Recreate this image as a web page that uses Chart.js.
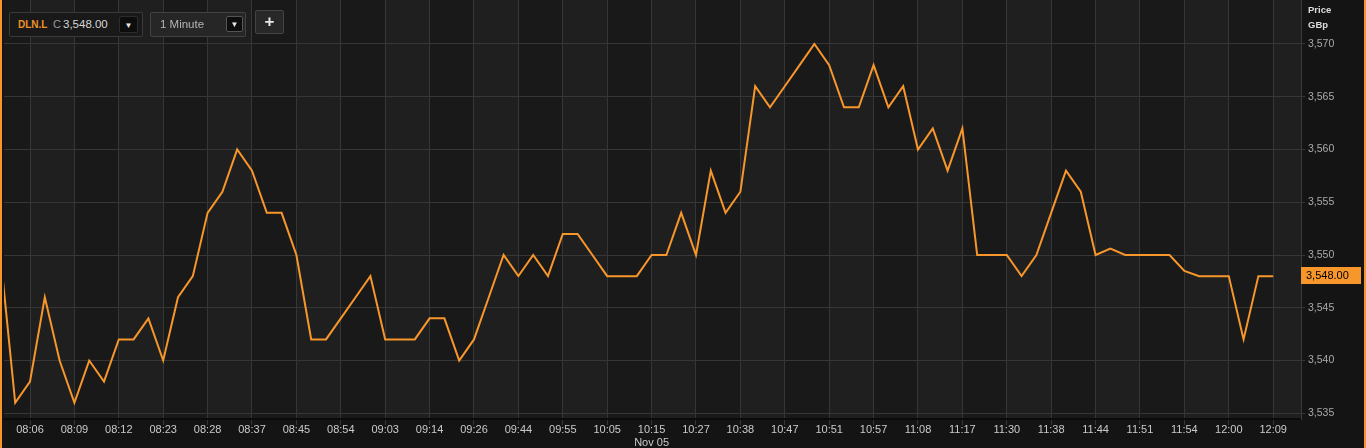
<!DOCTYPE html>
<html>
<head>
<meta charset="utf-8">
<script src="https://cdn.jsdelivr.net/npm/chart.js@4.4.0/dist/chart.umd.min.js"></script>
<style>
  html, body { margin: 0; padding: 0; background: #141414; width: 1366px; height: 448px; overflow: hidden; }
  body { font-family: "Liberation Sans", Arial, sans-serif; }
  #wrap { position: relative; width: 1366px; height: 448px; }
  #chart { position: absolute; left: 0; top: 0; }
  .ctl { position: absolute; box-sizing: border-box; border: 1px solid #3a3a3a; border-radius: 2px; }
  .btn { position: absolute; box-sizing: border-box; background: #0d0d0d; border: 1px solid #2c2c2c; border-radius: 2px;
         color: #e8e8e8; font-size: 8px; text-align: center; }
  .unit { position: absolute; left: 1308px; color: #dcdcdc; font-size: 9.5px; font-weight: bold; }
</style>
</head>
<body>
<div id="wrap">
  <canvas id="chart" width="1366" height="448"></canvas>

  <div class="ctl" style="left:9px;top:12px;width:134px;height:25px;background:#191919;">
    <span style="position:absolute;left:8px;top:6px;color:#f0922a;font-size:10px;font-weight:bold;">DLN.L</span>
    <span style="position:absolute;left:43px;top:5px;color:#9a9a9a;font-size:11px;">C</span>
    <span style="position:absolute;left:53px;top:5px;color:#d6d6d6;font-size:11.5px;">3,548.00</span>
    <div class="btn" style="left:109px;top:3px;width:19px;height:17px;line-height:17px;">&#9660;</div>
  </div>

  <div class="ctl" style="left:150px;top:12px;width:96px;height:25px;background:#262626;border-color:#424242;">
    <span style="position:absolute;left:9px;top:5px;color:#b4b4b4;font-size:11.5px;">1 Minute</span>
    <div class="btn" style="left:75px;top:3px;width:17px;height:16px;line-height:16px;border-color:#555;">&#9660;</div>
  </div>

  <div class="ctl" style="left:255px;top:10px;width:29px;height:24px;background:#282828;border-color:#444;
       color:#e6e6e6;font-size:17px;font-weight:bold;text-align:center;line-height:22px;">+</div>

  <div class="unit" style="top:4px;">Price</div>
  <div class="unit" style="top:19px;">GBp</div>
</div>

<script>
// price per minute bar (only traded minutes are shown)
var prices = [
  3550, 3536, 3538, 3546, 3540, 3536, 3540, 3538, 3542, 3542,
  3544, 3540, 3546, 3548, 3554, 3556, 3560, 3558, 3554, 3554,
  3550, 3542, 3542, 3544, 3546, 3548, 3542, 3542, 3542, 3544,
  3544, 3540, 3542, 3546, 3550, 3548, 3550, 3548, 3552, 3552,
  3550, 3548, 3548, 3548, 3550, 3550, 3554, 3550, 3558, 3554,
  3556, 3566, 3564, 3566, 3568, 3570, 3568, 3564, 3564, 3568,
  3564, 3566, 3560, 3562, 3558, 3562, 3550, 3550, 3550, 3548,
  3550, 3554, 3558, 3556, 3550, 3550.6, 3550, 3550, 3550, 3550,
  3548.5, 3548, 3548, 3548, 3542, 3548, 3548
];

// time labels, one every third bar starting at bar 2
var tickLabels = [
  '08:06', '08:09', '08:12', '08:23', '08:28', '08:37', '08:45', '08:54', '09:03', '09:14',
  '09:26', '09:44', '09:55', '10:05', '10:15', '10:27', '10:38', '10:47', '10:51', '10:57',
  '11:08', '11:17', '11:30', '11:38', '11:44', '11:51', '11:54', '12:00', '12:09'
];
var dateLabel = 'Nov 05';
var dateTick = '10:15';

var lastPrice = 3548;
var priceTicks = [3535, 3540, 3545, 3550, 3555, 3560, 3565, 3570];

var orange = '#f7962b';
var font = '"Liberation Sans", Arial, sans-serif';

function tickBar(k) { return 2 + 3 * k; }

var points = prices.map(function (p, i) { return { x: i, y: p }; });

// alternating column shading between the time gridlines + frame
var backdrop = {
  id: 'backdrop',
  beforeDraw: function (chart) {
    var c = chart.ctx, a = chart.chartArea, x = chart.scales.x;
    c.save();
    c.fillStyle = '#141414';
    c.fillRect(0, 0, chart.width, chart.height);
    c.fillStyle = '#191919';
    c.fillRect(a.left, 0, a.right - a.left, a.bottom);
    var edges = [a.left];
    tickLabels.forEach(function (t, k) { edges.push(x.getPixelForValue(tickBar(k))); });
    edges.push(a.right);
    for (var j = 0; j < edges.length - 1; j++) {
      if (j % 2 === 1) {
        c.fillStyle = '#1f1f1f';
        c.fillRect(edges[j], 0, edges[j + 1] - edges[j], a.bottom);
      }
    }
    c.restore();
  },
  afterDraw: function (chart) {
    var c = chart.ctx, a = chart.chartArea, y = chart.scales.y;
    c.save();
    // last price badge
    var py = Math.round(y.getPixelForValue(lastPrice));
    c.fillStyle = orange;
    c.fillRect(a.right, py - 9, 60, 17);
    c.fillStyle = '#000';
    c.font = '11px ' + font;
    c.textBaseline = 'middle';
    c.fillText(lastPrice.toLocaleString('en-US', { minimumFractionDigits: 2 }), a.right + 5, py);
    // orange frame edges
    c.fillStyle = orange;
    c.fillRect(0, 0, 2, chart.height);
    c.fillRect(chart.width - 2, 0, 2, chart.height);
    c.restore();
  }
};

new Chart(document.getElementById('chart').getContext('2d'), {
  type: 'line',
  data: {
    datasets: [{
      data: points,
      borderColor: orange,
      borderWidth: 2,
      pointRadius: 0,
      tension: 0
    }]
  },
  options: {
    responsive: false,
    devicePixelRatio: 1,
    animation: false,
    layout: { padding: { left: 4, right: 5, top: 0, bottom: 2 } },
    plugins: { legend: { display: false }, tooltip: { enabled: false } },
    scales: {
      x: {
        type: 'linear',
        min: 0.243,
        max: 87.88,
        afterBuildTicks: function (s) {
          s.ticks = tickLabels.map(function (t, k) { return { value: tickBar(k) }; });
        },
        afterFit: function (s) { s.height = 27; s.paddingLeft = 0; s.paddingRight = 0; },
        ticks: {
          autoSkip: false,
          maxRotation: 0,
          color: '#cacaca',
          padding: -1,
          font: { family: font, size: 11, lineHeight: 1.15 },
          callback: function (v) {
            var t = tickLabels[(v - 2) / 3];
            return t === dateTick ? [t, dateLabel] : t;
          }
        },
        grid: { color: '#363636', lineWidth: 1, tickLength: 6 },
        border: { display: true, color: '#0b0b0b', width: 2 }
      },
      y: {
        position: 'right',
        min: 3534.46,
        max: 3574.17,
        afterBuildTicks: function (s) {
          s.ticks = priceTicks.map(function (v) { return { value: v }; });
        },
        afterFit: function (s) { s.width = 60; s.paddingTop = 0; s.paddingBottom = 0; },
        ticks: {
          color: '#aaaaaa',
          padding: 3,
          font: { family: font, size: 10.5 },
          callback: function (v) { return v.toLocaleString('en-US'); }
        },
        grid: { color: '#363636', lineWidth: 1, tickLength: 4 },
        border: { display: true, color: '#3a3a3a', width: 1 }
      }
    }
  },
  plugins: [backdrop]
});
</script>
</body>
</html>
